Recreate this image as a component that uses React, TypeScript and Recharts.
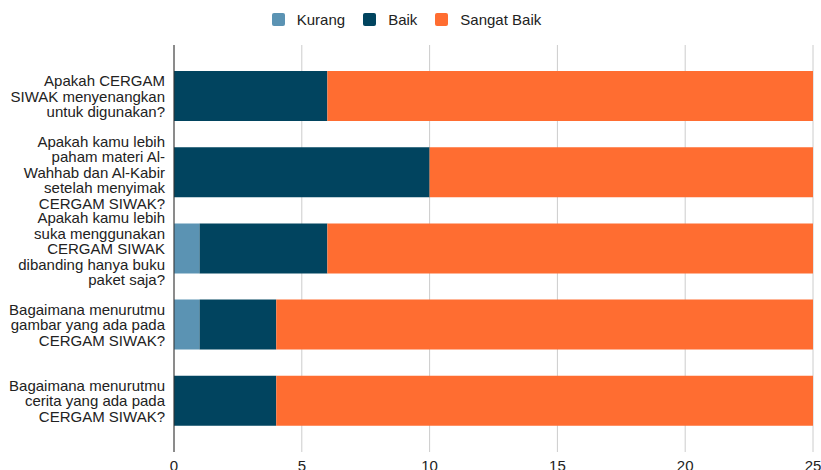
import React from "react";
import { BarChart, Bar, XAxis, YAxis, CartesianGrid, Legend } from "recharts";

const categories = [
  "Apakah CERGAM\nSIWAK menyenangkan\nuntuk digunakan?",
  "Apakah kamu lebih\npaham materi Al-\nWahhab dan Al-Kabir\nsetelah menyimak\nCERGAM SIWAK?",
  "Apakah kamu lebih\nsuka menggunakan\nCERGAM SIWAK\ndibanding hanya buku\npaket saja?",
  "Bagaimana menurutmu\ngambar yang ada pada\nCERGAM SIWAK?",
  "Bagaimana menurutmu\ncerita yang ada pada\nCERGAM SIWAK?",
];
const kurang = [0, 0, 1, 1, 0];
const baik = [6, 10, 5, 3, 4];
const sangatBaik = [19, 15, 19, 21, 21];
const xTicks = [0, 5, 10, 15, 20, 25];

const seriesNames = ["Kurang", "Baik", "Sangat Baik"];
const seriesColors = ["#5b93b3", "#01445f", "#ff6d31"];

const data = categories.map((name, i) => ({
  name,
  Kurang: kurang[i],
  Baik: baik[i],
  "Sangat Baik": sangatBaik[i],
}));

const FONT = "'Liberation Sans', Arial, sans-serif";

const YTick = (props: any) => {
  const { x, y, payload } = props;
  const lines = String(payload.value).split("\n");
  const lh = 15.5;
  const start = -((lines.length - 1) * lh) / 2;
  return (
    <text x={x} y={y} textAnchor="end" fill="#222" fontSize={15} fontFamily={FONT}>
      {lines.map((l, i) => (
        <tspan key={i} x={x} y={y + start + i * lh} dominantBaseline="central">
          {l}
        </tspan>
      ))}
    </text>
  );
};

const LegendContent = () => (
  <div
    style={{
      height: 28,
      paddingBottom: 12,
      display: "flex",
      alignItems: "center",
      justifyContent: "center",
      fontFamily: FONT,
      fontSize: 15,
      color: "#222",
    }}
  >
    {seriesNames.map((n, i) => (
      <div key={n} style={{ display: "flex", alignItems: "center", marginRight: i < 2 ? 18 : 0 }}>
        <div
          style={{
            width: 13,
            height: 13,
            background: seriesColors[i],
            borderRadius: 2,
            marginRight: 12,
          }}
        />
        <span>{n}</span>
      </div>
    ))}
  </div>
);

export default function App() {
  return (
    <div style={{ position: "absolute", left: 0, top: 0, background: "#fff" }}>
      <BarChart
        width={821}
        height={470}
        data={data}
        layout="vertical"
        margin={{ top: 5, right: 8, bottom: 0, left: 0 }}
      >
        <CartesianGrid horizontal={false} vertical={true} stroke="#cccccc" />
        <Legend verticalAlign="top" align="center" content={<LegendContent />} />
        <XAxis
          type="number"
          domain={[0, 25]}
          ticks={xTicks}
          axisLine={false}
          tickLine={false}
          tickSize={0}
          tickMargin={8}
          height={18}
          tick={{ fill: "#222", fontSize: 15, fontFamily: FONT }}
          interval={0}
        />
        <YAxis
          type="category"
          dataKey="name"
          width={174}
          axisLine={{ stroke: "#333" }}
          tickLine={false}
          tickSize={0}
          tickMargin={9}
          tick={<YTick />}
          interval={0}
          padding={{ top: 13, bottom: 13 }}
        />
        {seriesNames.map((n, i) => (
          <Bar
            key={n}
            dataKey={n}
            stackId="a"
            fill={seriesColors[i]}
            barSize={50}
            isAnimationActive={false}
          />
        ))}
      </BarChart>
    </div>
  );
}
